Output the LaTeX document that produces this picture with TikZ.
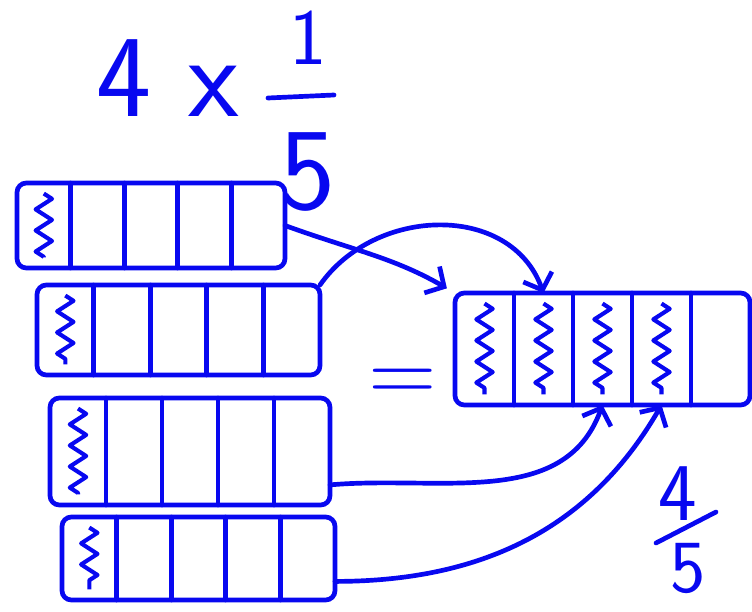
\documentclass[tikz,border=0pt]{standalone}
\usepackage{fontspec}
\usepackage{tikz}
\usetikzlibrary{arrows.meta,decorations.pathmorphing}
\definecolor{ink}{RGB}{8,8,240}

\tikzset{
  bar/.style={draw=ink, line width=4pt, rounded corners=8pt},
  part/.style={inner sep=0pt, outer sep=0pt},
  divider/.style={draw=ink, line width=4pt, line cap=round},
  shaded/.style={draw=ink, line width=3.5pt, line join=round, decorate,
    decoration={zigzag, amplitude=7pt, segment length=18pt}},
  link/.style={draw=ink, line width=4pt, line cap=round,
    -{Straight Barb[length=12pt,width=26pt,line width=4pt]}},
  sketch/.style={text=ink, inner sep=0pt}
}

% one bar cut into five parts: name, left, top, part width, height, shaded parts
\newcommand{\fifthbar}[6]{%
  \foreach \i in {1,...,5}
    \node[part, minimum width=#4*0.03cm, minimum height=#5*0.03cm, anchor=north west]
      (#1-\i) at ({#2+(\i-1)*#4},#3) {};
  \draw[bar] (#1-1.north west) rectangle (#1-5.south east);
  \foreach \i in {1,...,4}
    \draw[divider] (#1-\i.north east) -- (#1-\i.south east);
  \foreach \i in {1,...,#6}
    \draw[shaded] ([yshift=-9pt]#1-\i.north) -- ([yshift=9pt]#1-\i.south);
}

\begin{document}
\begin{tikzpicture}[x=0.03cm, y=-0.03cm]
  \useasboundingbox (0,0) rectangle (752,611);

  % 4 x 1/5
  \node[sketch, font=\sffamily\fontsize{100}{100}\selectfont] (times) at (168,78) {4 x};
  \node[sketch, font=\sffamily\fontsize{68}{68}\selectfont] (one) at (308,38) {1};
  \draw[divider] (268,98) -- (334,95);
  \node[sketch, font=\sffamily\fontsize{100}{100}\selectfont] (five) at (308,172) {5};

  % the four fifths
  \fifthbar{bar1}{17}{183}{53.6}{85}{1}
  \fifthbar{bar2}{37}{285}{56.6}{90}{1}
  \fifthbar{bar3}{50}{398}{56}{107}{1}
  \fifthbar{bar4}{62}{517}{54.6}{83}{1}

  % = result
  \node[sketch, font=\sffamily\fontsize{80}{80}\selectfont] (eq) at (403,386) {=};
  \fifthbar{res}{455}{293}{59}{112}{4}

  % where each fifth goes
  \draw[link, shorten >=8pt] (bar1-5.east) to[out=-20, in=150] (res-1.north west);
  \draw[link] (bar2-5.north east) to[out=55, in=110, looseness=1.1] (res-2.north);
  \draw[link] (bar3-5.-50) to[out=5, in=-110] (res-3.south);
  \draw[link] (bar4-5.-40) to[out=0, in=-120] (res-4.south);

  % 4/5
  \node[sketch, font=\sffamily\fontsize{70}{70}\selectfont] (num) at (678,494) {4};
  \draw[divider] (656,543) -- (716,512);
  \node[sketch, font=\sffamily\fontsize{64}{64}\selectfont] (den) at (688,568) {5};
\end{tikzpicture}
\end{document}
